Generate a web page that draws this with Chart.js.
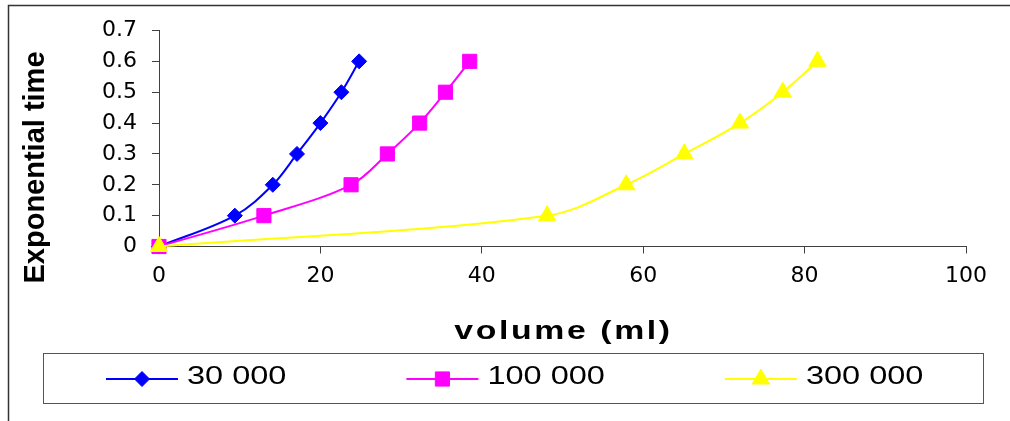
<!DOCTYPE html>
<html lang="en">
<head>
    <meta charset="UTF-8">
    <title>Exponential time vs volume</title>
    <script src="https://cdn.jsdelivr.net/npm/chart.js@4.4.1/dist/chart.umd.min.js"></script>
    <style>
        html, body { margin: 0; padding: 0; background: #fff; }
        #wrap { position: relative; width: 1010px; height: 421px; }
    </style>
</head>
<body>
    <div id="wrap"><canvas id="chart"></canvas></div>

    <script>
        // exponential time reached at each volume (ml), one volume list per series
        const expTime = [0, 0.1, 0.2, 0.3, 0.4, 0.5, 0.6];
        const vol30k = [0, 9.4, 14.1, 17.1, 20.0, 22.6, 24.8];
        const vol100k = [0, 13.0, 23.8, 28.3, 32.3, 35.5, 38.5];
        const vol300k = [0, 48.1, 57.9, 65.1, 72.0, 77.3, 81.6];
        const seriesLabels = ['30 000', '100 000', '300 000'];
        const xTicks = ['0', '20', '40', '60', '80', '100'];
        const yTicks = ['0', '0.1', '0.2', '0.3', '0.4', '0.5', '0.6', '0.7'];

        function toPoints(vols) {
            return vols.map((v, i) => ({ x: v, y: expTime[i] }));
        }

        function series(label, vols, color, style, radius, order) {
            return {
                label: label,
                data: toPoints(vols),
                borderColor: color,
                backgroundColor: color,
                borderWidth: 2,
                tension: 0.35,
                pointStyle: style,
                pointRadius: radius,
                pointHoverRadius: radius,
                pointBorderWidth: 1,
                order: order,
                clip: false
            };
        }

        // text drawn a little wider than the font's natural shape
        function wideText(ctx, text, x, y, sx) {
            ctx.save();
            ctx.translate(x, y);
            ctx.scale(sx, 1);
            ctx.fillText(text, 0, 0);
            ctx.restore();
        }

        // frame, axis titles and the boxed legend underneath
        const decor = {
            id: 'decor',
            beforeDraw(chart) {
                const ctx = chart.ctx;
                ctx.save();
                ctx.fillStyle = '#fff';
                ctx.fillRect(0, 0, chart.width, chart.height);
                ctx.strokeStyle = '#333';
                ctx.lineWidth = 1.5;
                ctx.strokeRect(8.5, 5.5, chart.width + 20, chart.height + 20);
                ctx.restore();
            },
            afterDraw(chart) {
                const ctx = chart.ctx;
                const area = chart.chartArea;
                ctx.save();
                ctx.fillStyle = '#000';
                ctx.textBaseline = 'alphabetic';

                ctx.font = 'bold 26px "Liberation Sans"';
                ctx.letterSpacing = '2px';
                ctx.textAlign = 'center';
                wideText(ctx, 'volume (ml)', (area.left + area.right) / 2 + 1, area.bottom + 92.5, 1.3);

                ctx.save();
                ctx.font = 'bold 29px "Liberation Sans"';
                ctx.letterSpacing = '0px';
                ctx.translate(44, 167.5);
                ctx.rotate(-Math.PI / 2);
                ctx.fillText('Exponential time', 0, 0);
                ctx.restore();

                // legend box
                ctx.letterSpacing = '0px';
                ctx.strokeStyle = '#555';
                ctx.lineWidth = 1;
                ctx.strokeRect(43.5, 353.5, 940, 50);

                ctx.font = '25px "Liberation Sans"';
                ctx.textAlign = 'left';
                const sets = chart.data.datasets;
                const sx = 1.3;
                let x = 106;
                const y = 379;
                seriesLabels.forEach((label, i) => {
                    const ds = sets[i];
                    ctx.strokeStyle = ds.borderColor;
                    ctx.fillStyle = ds.backgroundColor;
                    ctx.lineWidth = 2;
                    ctx.beginPath();
                    ctx.moveTo(x, y);
                    ctx.lineTo(x + 72, y);
                    ctx.stroke();
                    ctx.lineWidth = 1;
                    Chart.helpers.drawPoint(ctx, {
                        pointStyle: ds.pointStyle,
                        radius: ds.pointRadius,
                        rotation: 0,
                        borderWidth: 1
                    }, x + 36, y);
                    ctx.fillStyle = '#000';
                    wideText(ctx, label, x + 81, 384, sx);
                    x += 81 + ctx.measureText(label).width * sx + 120;
                });
                ctx.restore();
            }
        };

        const axisColor = '#404040';
        const tickFont = { family: 'DejaVu Sans', size: 22 };

        new Chart(document.getElementById('chart'), {
            type: 'line',
            data: {
                datasets: [
                    series(seriesLabels[0], vol30k, '#0000ff', 'rectRot', 7.5, 2),
                    series(seriesLabels[1], vol100k, '#ff00ff', 'rect', 10, 1),
                    series(seriesLabels[2], vol300k, '#ffff00', 'triangle', 10, 0)
                ]
            },
            options: {
                responsive: true,
                maintainAspectRatio: false,
                animation: false,
                events: [],
                layout: { padding: { left: 99, right: 44, top: 30.5, bottom: 134.5 } },
                plugins: {
                    legend: { display: false },
                    tooltip: { enabled: false }
                },
                scales: {
                    x: {
                        type: 'linear',
                        min: 0,
                        max: 100,
                        afterFit(scale) { scale.height = 40; },
                        border: { display: true, color: axisColor, width: 1 },
                        grid: { drawOnChartArea: false, drawTicks: true, tickLength: 7, color: axisColor },
                        ticks: {
                            stepSize: 20,
                            padding: 10,
                            color: '#000',
                            font: tickFont,
                            maxRotation: 0,
                            callback: (v, i) => xTicks[i]
                        }
                    },
                    y: {
                        type: 'linear',
                        min: 0,
                        max: 0.7,
                        afterFit(scale) { scale.width = 60; },
                        border: { display: true, color: axisColor, width: 1 },
                        grid: { drawOnChartArea: false, drawTicks: true, tickLength: 7, color: axisColor },
                        ticks: {
                            stepSize: 0.1,
                            padding: 15,
                            color: '#000',
                            font: tickFont,
                            callback: (v, i) => yTicks[i]
                        }
                    }
                }
            },
            plugins: [decor]
        });
    </script>
</body>
</html>
